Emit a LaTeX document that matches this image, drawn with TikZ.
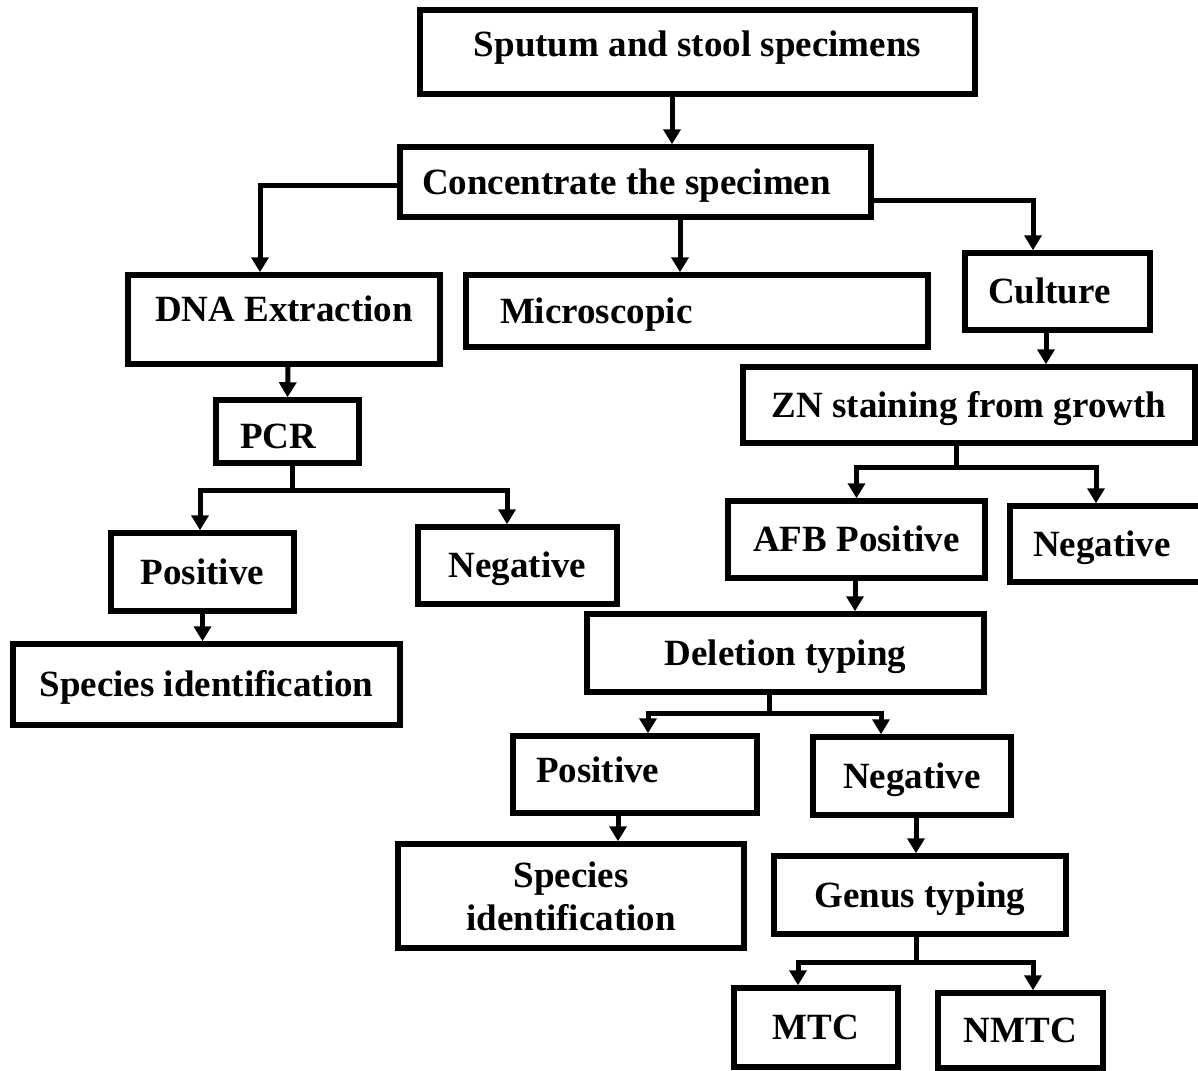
\documentclass[tikz,border=0pt]{standalone}
\usepackage{fontspec}
\setmainfont{Liberation Serif}
\usetikzlibrary{arrows.meta}

\begin{document}
\begin{tikzpicture}[x=1pt,y=-1pt,
  frame/.style={draw, line width=5.5pt, inner sep=0pt, font=\bfseries\fontsize{37}{43}\selectfont},
  box/.style={frame, text height=30pt, text depth=6pt},
  raisetxt/.style={text depth=#1},
  lefttxt/.style={text width=#1, align=left},
  wire/.style={line width=5pt},
  arr/.style={line width=5pt, -{Triangle[width=17pt,length=15pt]}}]
\useasboundingbox (0,0) rectangle (1198,1070);

\node[box, raisetxt=20.8pt, minimum width=555, minimum height=84](spec) at (697.5,52) {Sputum and stool specimens};
\node[box, minimum width=471, minimum height=70](conc) at (635.5,182) {\hspace{-18pt}Concentrate the specimen};
\node[box, raisetxt=25.8pt, minimum width=312, minimum height=89](dna) at (284,319.5) {DNA Extraction};
\node[box, lefttxt=394pt, minimum width=462, minimum height=72](micro) at (697,311) {Microscopic};
\node[box, lefttxt=139pt, minimum width=185, minimum height=77](cult) at (1057.5,291.5) {Culture};
\node[box, minimum width=452, minimum height=76](zn) at (969,405) {ZN staining from growth};
\node[box, minimum width=257, minimum height=77](afb) at (856.5,539.5) {AFB Positive};
\node[box, lefttxt=149pt, minimum width=195, minimum height=76](negR) at (1107.5,544) {Negative};
\node[box, lefttxt=95pt, text height=36pt, text depth=3pt, minimum width=143, minimum height=63](pcr) at (287.5,431.5) {PCR};
\node[box, minimum width=183, minimum height=78](posL) at (202.5,572) {Positive};
\node[box, minimum width=199, minimum height=77](negL) at (517.5,565.5) {Negative};
\node[box, minimum width=387, minimum height=81](specL) at (206.5,684.5) {Species identification};
\node[box, minimum width=397, minimum height=78](del) at (785.5,653) {Deletion typing};
\node[box, lefttxt=198pt, raisetxt=14.8pt, minimum width=244, minimum height=77](posB) at (635,774.5) {Positive};
\node[box, minimum width=198, minimum height=78](negB) at (912,776) {Negative};
\node[frame, align=center, minimum width=346, minimum height=104](specB) at (571,896) {Species\\identification};
\node[box, minimum width=292, minimum height=78](genus) at (920,895) {Genus typing};
\node[box, minimum width=164, minimum height=79](mtc) at (816,1027.5) {MTC};
\node[box, minimum width=165, minimum height=75](nmtc) at (1020.5,1030.5) {NMTC};

\coordinate (jPcr) at (292,490);
\coordinate (jZn) at (956,467);
\coordinate (jDel) at (769,713);
\coordinate (jGen) at (916,962);

\draw[arr] ([xshift=-25.5pt]spec.south) -- ([xshift=36.5pt]conc.north);
\draw[arr] ([yshift=-3pt]conc.west) -| ([xshift=-24pt]dna.north);
\draw[arr] ([xshift=44.5pt]conc.south) -- ([xshift=-17pt]micro.north);
\draw[arr] ([yshift=-18pt]conc.east) -| ([xshift=-24.5pt]cult.north);
\draw[arr] ([xshift=-11.5pt]cult.south) -- ([xshift=77pt]zn.north);
\draw[arr] ([xshift=4pt]dna.south) -- (pcr.north);

\draw[wire] (pcr.south -| jPcr) -- (jPcr);
\draw[arr] (jPcr) -| ([xshift=-2.5pt]posL.north);
\draw[arr] (jPcr) -| ([xshift=-10.5pt]negL.north);
\draw[arr] (posL.south) -- (specL.north -| posL.south);

\draw[wire] (zn.south -| jZn) -- (jZn);
\draw[arr] (jZn) -| (afb.north);
\draw[arr] (jZn) -| ([xshift=-11.5pt]negR.north);
\draw[arr] ([xshift=-1.5pt]afb.south) -- ([xshift=69.5pt]del.north);

\draw[wire] (del.south -| jDel) -- (jDel);
\draw[arr] (jDel) -| ([xshift=13pt]posB.north);
\draw[arr] (jDel) -| ([xshift=-31pt]negB.north);
\draw[arr] ([xshift=-17pt]posB.south) -- ([xshift=47pt]specB.north);
\draw[arr] ([xshift=4pt]negB.south) -- ([xshift=-4pt]genus.north);

\draw[wire] (genus.south -| jGen) -- (jGen);
\draw[arr] (jGen) -| ([xshift=-18pt]mtc.north);
\draw[arr] (jGen) -| ([xshift=12.5pt]nmtc.north);
\end{tikzpicture}
\end{document}
